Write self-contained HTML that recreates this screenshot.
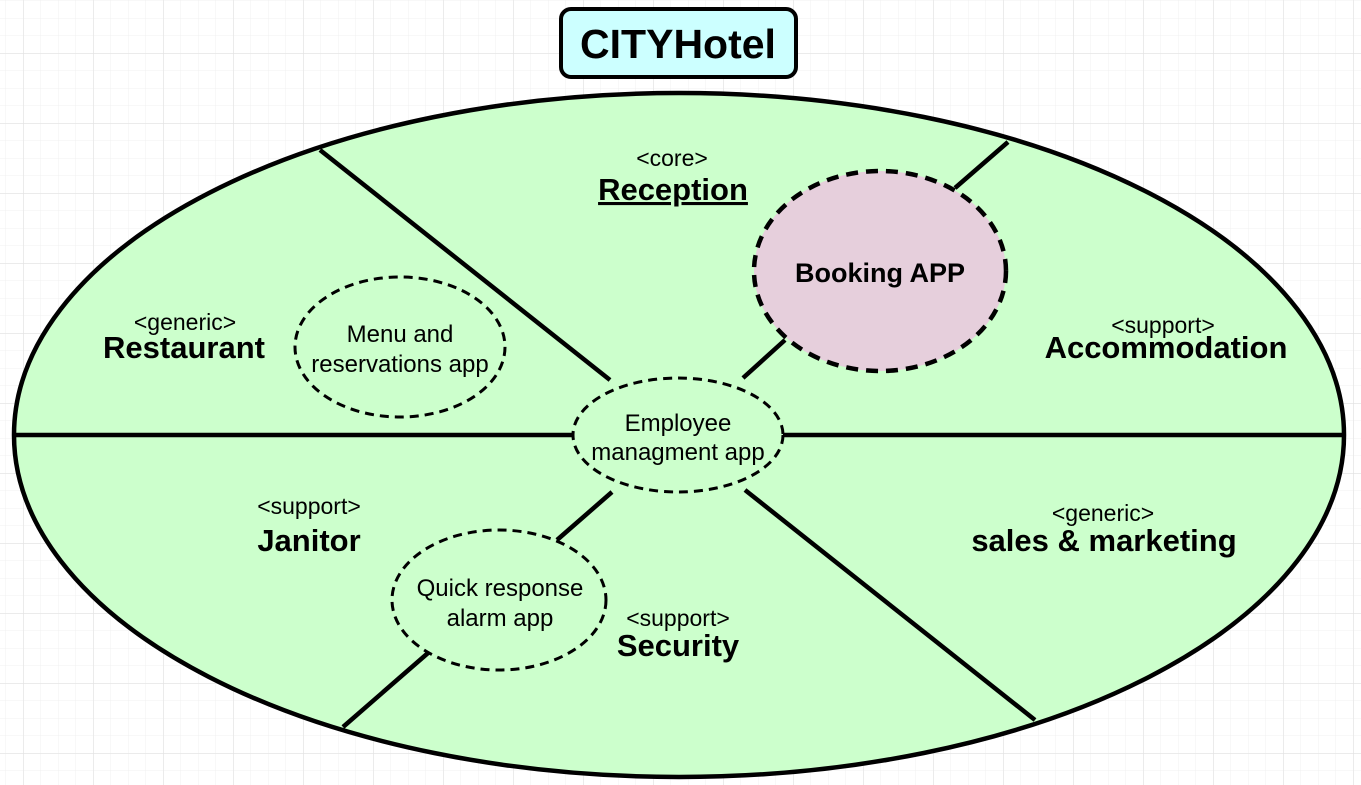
<!DOCTYPE html>
<html><head><meta charset="utf-8"><style>
html,body{margin:0;padding:0;background:#fff}
svg{display:block}
text{font-family:"Liberation Sans",Arial,sans-serif;fill:#000}
</style></head><body>
<svg width="1361" height="785" viewBox="0 0 1361 785" xmlns="http://www.w3.org/2000/svg">
<defs>
<pattern id="minor" x="5.5" y="0.5" width="17.5" height="17.5" patternUnits="userSpaceOnUse">
<path d="M0 0V17.5M0 0H17.5" stroke="#f0f0f0" stroke-width="1" fill="none"/>
</pattern>
<pattern id="major" x="23.3" y="53.3" width="70" height="70" patternUnits="userSpaceOnUse">
<path d="M0 0V70M0 0H70" stroke="#e0e0e0" stroke-width="1" fill="none"/>
</pattern>
</defs>
<rect width="1361" height="785" fill="#fff"/>
<rect width="1361" height="785" fill="url(#minor)"/>
<rect width="1361" height="785" fill="url(#major)"/>

<ellipse cx="679" cy="435" rx="665" ry="342" fill="#ccffcc" stroke="#000" stroke-width="4.5"/>

<g stroke="#000" stroke-width="4.5" fill="none">
<line x1="14" y1="435" x2="574" y2="435"/>
<line x1="783" y1="435" x2="1344" y2="435"/>
<line x1="320" y1="150" x2="610" y2="380"/>
<line x1="1008" y1="142" x2="955" y2="188"/>
<line x1="785" y1="340" x2="743" y2="378"/>
<line x1="745" y1="490" x2="1035" y2="720"/>
<line x1="612" y1="492" x2="557" y2="540"/>
<line x1="428" y1="653" x2="343" y2="727"/>
</g>

<g stroke="#000" stroke-width="3" stroke-dasharray="9,6">
<ellipse cx="678" cy="435" rx="105" ry="57" fill="#ccffcc"/>
<ellipse cx="400" cy="347" rx="105" ry="70" fill="#ccffcc"/>
<ellipse cx="499" cy="600" rx="107" ry="70" fill="#ccffcc"/>
</g>
<ellipse cx="880" cy="271" rx="126" ry="100" fill="#e6cfdc" stroke="#000" stroke-width="4.5" stroke-dasharray="12,8"/>

<rect x="561" y="9" width="235" height="68" rx="10" fill="#ccffff" stroke="#000" stroke-width="4"/>
<text x="678" y="58" font-size="41" font-weight="bold" text-anchor="middle">CITYHotel</text>

<g text-anchor="middle">
<text x="672" y="166" font-size="23">&lt;core&gt;</text>
<text x="673" y="200" font-size="31" font-weight="bold" text-decoration="underline">Reception</text>
<text x="880" y="282" font-size="27" font-weight="bold">Booking APP</text>
<text x="185" y="330" font-size="23">&lt;generic&gt;</text>
<text x="184" y="358" font-size="31" font-weight="bold">Restaurant</text>
<text x="1163" y="333" font-size="23">&lt;support&gt;</text>
<text x="1166" y="358" font-size="31" font-weight="bold">Accommodation</text>
<text x="400" y="342" font-size="24">Menu and</text>
<text x="400" y="372" font-size="24">reservations app</text>
<text x="678" y="431" font-size="24">Employee</text>
<text x="678" y="460" font-size="24">managment app</text>
<text x="309" y="514" font-size="23">&lt;support&gt;</text>
<text x="309" y="551" font-size="31" font-weight="bold">Janitor</text>
<text x="1103" y="521" font-size="23">&lt;generic&gt;</text>
<text x="1104" y="551" font-size="31" font-weight="bold">sales &amp; marketing</text>
<text x="500" y="596" font-size="24">Quick response</text>
<text x="500" y="626" font-size="24">alarm app</text>
<text x="678" y="626" font-size="23">&lt;support&gt;</text>
<text x="678" y="656" font-size="31" font-weight="bold">Security</text>
</g>
</svg>
</body></html>
